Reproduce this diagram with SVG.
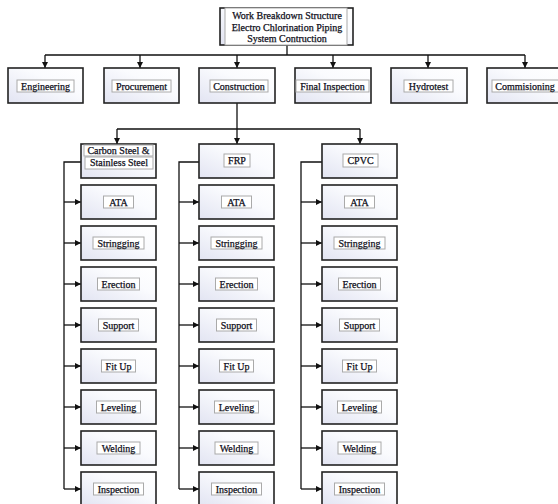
<svg xmlns="http://www.w3.org/2000/svg" width="558" height="504" viewBox="0 0 558 504">
<defs>
<linearGradient id="g" x1="0" y1="1" x2="1" y2="0">
<stop offset="0" stop-color="#e2e4f2"/>
<stop offset="0.6" stop-color="#fafbfe"/>
<stop offset="1" stop-color="#ffffff"/>
</linearGradient>
<marker id="ah" markerUnits="userSpaceOnUse" markerWidth="6" markerHeight="6" refX="6" refY="3" orient="auto">
<path d="M0,0 L6,3 L0,6 z" fill="#111"/>
</marker>
</defs>
<style>
.box{fill:url(#g);stroke:#222;stroke-width:1.6}
.tb{fill:#fff;stroke:#aaa;stroke-width:1}
.t{font-family:"Liberation Serif","Times New Roman",serif;font-size:10px;fill:#101020;stroke:#101020;stroke-width:0.25;text-anchor:middle}
.c{fill:none;stroke:#111;stroke-width:1.3}
.a{fill:none;stroke:#111;stroke-width:1.3;marker-end:url(#ah)}
</style>
<rect width="558" height="504" fill="#fff"/>

<g id="connectors">
<path class="c" d="M287,45 V55 M45,55 H525"/>
<path class="a" d="M45,55 V68"/>
<path class="a" d="M140,55 V68"/>
<path class="a" d="M237,55 V68"/>
<path class="a" d="M333,55 V68"/>
<path class="a" d="M428,55 V68"/>
<path class="a" d="M525,55 V68"/>
<path class="c" d="M237,103 V129 M117,129 H360"/>
<path class="a" d="M117,129 V144"/>
<path class="a" d="M237,129 V144"/>
<path class="a" d="M360,129 V144"/>
<path class="c" d="M81,162 H64 V489"/>
<path class="c" d="M199,162 H179 V489"/>
<path class="c" d="M322,162 H301 V489"/>
<g id="arrows-cs">
<path class="a" d="M64,202 H81"/><path class="a" d="M64,243 H81"/><path class="a" d="M64,284 H81"/><path class="a" d="M64,325 H81"/><path class="a" d="M64,366 H81"/><path class="a" d="M64,407 H81"/><path class="a" d="M64,448 H81"/><path class="a" d="M64,489 H81"/>
</g>
<g id="arrows-frp">
<path class="a" d="M179,202 H199"/><path class="a" d="M179,243 H199"/><path class="a" d="M179,284 H199"/><path class="a" d="M179,325 H199"/><path class="a" d="M179,366 H199"/><path class="a" d="M179,407 H199"/><path class="a" d="M179,448 H199"/><path class="a" d="M179,489 H199"/>
</g>
<g id="arrows-cpvc">
<path class="a" d="M301,202 H322"/><path class="a" d="M301,243 H322"/><path class="a" d="M301,284 H322"/><path class="a" d="M301,325 H322"/><path class="a" d="M301,366 H322"/><path class="a" d="M301,407 H322"/><path class="a" d="M301,448 H322"/><path class="a" d="M301,489 H322"/>
</g>
</g>

<g id="root">
<rect class="box" x="220" y="8" width="133" height="37"/>
<rect class="tb" x="225" y="8" width="122" height="37"/>
<text class="t" x="287" y="19">Work Breakdown Structure</text>
<text class="t" x="287" y="30.5">Electro Chlorination Piping</text>
<text class="t" x="287" y="42">System Contruction</text>
</g>

<g id="engineering"><rect class="box" x="8" y="68" width="75" height="35"/><rect class="tb" x="17" y="80" width="57" height="12"/><text class="t" x="45.5" y="89.5">Engineering</text></g>
<g id="procurement"><rect class="box" x="104" y="68" width="75" height="35"/><rect class="tb" x="112" y="80" width="59" height="12"/><text class="t" x="141.5" y="89.5">Procurement</text></g>
<g id="construction"><rect class="box" x="199" y="68" width="76" height="35"/><rect class="tb" x="210" y="80" width="58" height="12"/><text class="t" x="239" y="89.5">Construction</text></g>
<g id="final-inspection"><rect class="box" x="295" y="68" width="76" height="35"/><rect class="tb" x="296" y="80" width="73" height="12"/><text class="t" x="332.5" y="89.5">Final Inspection</text></g>
<g id="hydrotest"><rect class="box" x="391" y="68" width="76" height="35"/><rect class="tb" x="404" y="80" width="49" height="12"/><text class="t" x="428.5" y="89.5">Hydrotest</text></g>
<g id="commisioning"><rect class="box" x="487" y="68" width="76" height="35"/><rect class="tb" x="492" y="80" width="67" height="12"/><text class="t" x="525" y="89.5">Commisioning</text></g>

<g id="cs">
<rect class="box" x="81" y="144" width="75" height="34"/>
<rect class="tb" x="84" y="145" width="69" height="11"/>
<rect class="tb" x="85" y="157" width="68" height="12"/>
<text class="t" x="118.5" y="154">Carbon Steel &amp;</text>
<text class="t" x="119" y="166">Stainless Steel</text>
</g>
<g id="frp"><rect class="box" x="199" y="144" width="75" height="34"/><rect class="tb" x="224" y="154" width="26" height="13"/><text class="t" x="237" y="164">FRP</text></g>
<g id="cpvc"><rect class="box" x="322" y="144" width="75" height="34"/><rect class="tb" x="343" y="154" width="35" height="13"/><text class="t" x="360.5" y="164">CPVC</text></g>

<g id="cs-ata"><rect class="box" x="81" y="185" width="75" height="34"/><rect class="tb" x="103.5" y="196" width="30" height="12"/><text class="t" x="118.5" y="205.5">ATA</text></g>
<g id="cs-stringging"><rect class="box" x="81" y="226" width="75" height="34"/><rect class="tb" x="93" y="237" width="51" height="12"/><text class="t" x="118.5" y="246.5">Stringging</text></g>
<g id="cs-erection"><rect class="box" x="81" y="267" width="75" height="34"/><rect class="tb" x="97.5" y="278" width="42" height="12"/><text class="t" x="118.5" y="287.5">Erection</text></g>
<g id="cs-support"><rect class="box" x="81" y="308" width="75" height="34"/><rect class="tb" x="98.5" y="319" width="40" height="12"/><text class="t" x="118.5" y="328.5">Support</text></g>
<g id="cs-fitup"><rect class="box" x="81" y="349" width="75" height="34"/><rect class="tb" x="101.5" y="360" width="34" height="12"/><text class="t" x="118.5" y="369.5">Fit Up</text></g>
<g id="cs-leveling"><rect class="box" x="81" y="390" width="75" height="34"/><rect class="tb" x="96.5" y="401" width="44" height="12"/><text class="t" x="118.5" y="410.5">Leveling</text></g>
<g id="cs-welding"><rect class="box" x="81" y="431" width="75" height="34"/><rect class="tb" x="97" y="442" width="43" height="12"/><text class="t" x="118.5" y="451.5">Welding</text></g>
<g id="cs-inspection"><rect class="box" x="81" y="472" width="75" height="34"/><rect class="tb" x="93.5" y="483" width="50" height="12"/><text class="t" x="118.5" y="492.5">Inspection</text></g>

<g id="frp-ata"><rect class="box" x="199" y="185" width="75" height="34"/><rect class="tb" x="221.5" y="196" width="30" height="12"/><text class="t" x="236.5" y="205.5">ATA</text></g>
<g id="frp-stringging"><rect class="box" x="199" y="226" width="75" height="34"/><rect class="tb" x="211" y="237" width="51" height="12"/><text class="t" x="236.5" y="246.5">Stringging</text></g>
<g id="frp-erection"><rect class="box" x="199" y="267" width="75" height="34"/><rect class="tb" x="215.5" y="278" width="42" height="12"/><text class="t" x="236.5" y="287.5">Erection</text></g>
<g id="frp-support"><rect class="box" x="199" y="308" width="75" height="34"/><rect class="tb" x="216.5" y="319" width="40" height="12"/><text class="t" x="236.5" y="328.5">Support</text></g>
<g id="frp-fitup"><rect class="box" x="199" y="349" width="75" height="34"/><rect class="tb" x="219.5" y="360" width="34" height="12"/><text class="t" x="236.5" y="369.5">Fit Up</text></g>
<g id="frp-leveling"><rect class="box" x="199" y="390" width="75" height="34"/><rect class="tb" x="214.5" y="401" width="44" height="12"/><text class="t" x="236.5" y="410.5">Leveling</text></g>
<g id="frp-welding"><rect class="box" x="199" y="431" width="75" height="34"/><rect class="tb" x="215" y="442" width="43" height="12"/><text class="t" x="236.5" y="451.5">Welding</text></g>
<g id="frp-inspection"><rect class="box" x="199" y="472" width="75" height="34"/><rect class="tb" x="211.5" y="483" width="50" height="12"/><text class="t" x="236.5" y="492.5">Inspection</text></g>

<g id="cpvc-ata"><rect class="box" x="322" y="185" width="75" height="34"/><rect class="tb" x="344.5" y="196" width="30" height="12"/><text class="t" x="359.5" y="205.5">ATA</text></g>
<g id="cpvc-stringging"><rect class="box" x="322" y="226" width="75" height="34"/><rect class="tb" x="334" y="237" width="51" height="12"/><text class="t" x="359.5" y="246.5">Stringging</text></g>
<g id="cpvc-erection"><rect class="box" x="322" y="267" width="75" height="34"/><rect class="tb" x="338.5" y="278" width="42" height="12"/><text class="t" x="359.5" y="287.5">Erection</text></g>
<g id="cpvc-support"><rect class="box" x="322" y="308" width="75" height="34"/><rect class="tb" x="339.5" y="319" width="40" height="12"/><text class="t" x="359.5" y="328.5">Support</text></g>
<g id="cpvc-fitup"><rect class="box" x="322" y="349" width="75" height="34"/><rect class="tb" x="342.5" y="360" width="34" height="12"/><text class="t" x="359.5" y="369.5">Fit Up</text></g>
<g id="cpvc-leveling"><rect class="box" x="322" y="390" width="75" height="34"/><rect class="tb" x="337.5" y="401" width="44" height="12"/><text class="t" x="359.5" y="410.5">Leveling</text></g>
<g id="cpvc-welding"><rect class="box" x="322" y="431" width="75" height="34"/><rect class="tb" x="338" y="442" width="43" height="12"/><text class="t" x="359.5" y="451.5">Welding</text></g>
<g id="cpvc-inspection"><rect class="box" x="322" y="472" width="75" height="34"/><rect class="tb" x="334.5" y="483" width="50" height="12"/><text class="t" x="359.5" y="492.5">Inspection</text></g>
</svg>
